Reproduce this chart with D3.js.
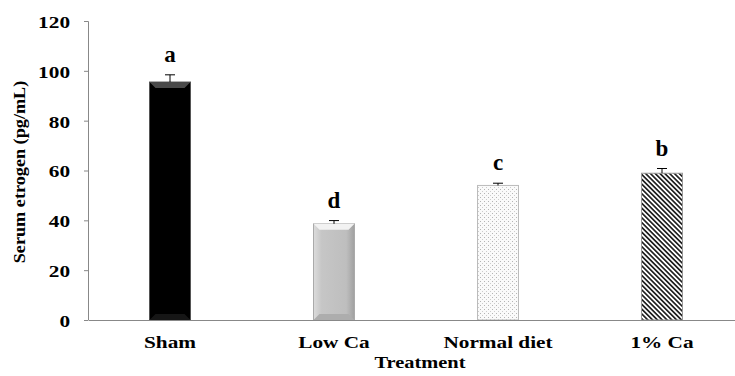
<!DOCTYPE html>
<html>
<head>
<meta charset="utf-8">
<script src="https://cdn.jsdelivr.net/npm/d3@7"></script>
<style>
  body { margin: 0; background: #fff; }
  text { font-family: "Liberation Serif", "Times New Roman", serif; font-weight: bold; fill: #000; }
</style>
</head>
<body>
<svg width="735" height="376"></svg>
<script>
// data
const treatments = ["Sham", "Low Ca", "Normal diet", "1% Ca"];
const means = [95.5, 38.6, 54.0, 58.9];
const errors = [2.9, 1.3, 0.9, 1.9];
const letters = ["a", "d", "c", "b"];
const yTicks = [0, 20, 40, 60, 80, 100, 120];

const svg = d3.select("svg");
const margin = {left: 88, right: -9, top: 21, bottom: 56};
const width = 735 - margin.left - margin.right,
      height = 376 - margin.top - margin.bottom;

const x = d3.scaleBand().domain(treatments).range([0, width]).paddingInner(0.75).paddingOuter(0.375);
const y = d3.scaleLinear().domain([0, 120]).range([height, 0]);

// the reference text is a little wider than the font, stretch it
function stretch(sel, k) {
  sel.each(function() {
    const w = this.getComputedTextLength();
    d3.select(this).attr("textLength", w * k).attr("lengthAdjust", "spacingAndGlyphs");
  });
}

const defs = svg.append("defs");

const gGray = defs.append("linearGradient").attr("id", "grayH").attr("x1", 0).attr("y1", 0).attr("x2", 1).attr("y2", 0);
gGray.append("stop").attr("offset", "0").attr("stop-color", "#dcdcdc");
gGray.append("stop").attr("offset", "0.2").attr("stop-color", "#c6c6c6");
gGray.append("stop").attr("offset", "0.8").attr("stop-color", "#bebebe");
gGray.append("stop").attr("offset", "1").attr("stop-color", "#a0a0a0");

const dots = defs.append("pattern").attr("id", "dots").attr("patternUnits", "userSpaceOnUse")
  .attr("width", 4).attr("height", 4);
dots.append("rect").attr("width", 4).attr("height", 4).attr("fill", "#fafafa");
dots.append("rect").attr("x", 0).attr("y", 0).attr("width", 1).attr("height", 1).attr("fill", "#b4b4b4");
dots.append("rect").attr("x", 2).attr("y", 2).attr("width", 1).attr("height", 1).attr("fill", "#cccccc");

const stripes = defs.append("pattern").attr("id", "stripes").attr("patternUnits", "userSpaceOnUse")
  .attr("width", 3.4).attr("height", 4).attr("patternTransform", "rotate(-45)");
stripes.append("rect").attr("width", 3.4).attr("height", 4).attr("fill", "#fff");
stripes.append("rect").attr("x", 0).attr("width", 1.7).attr("height", 4).attr("fill", "#222");

const fills = ["#000", "url(#grayH)", "url(#dots)", "url(#stripes)"];
const strokes = ["#555", "#aaa", "#bbb", "#999"];
const bevelTop = ["#4a4a4a", "#f2f2f2", null, null];
const bevelBottom = ["#161616", "#adadad", null, null];

const g = svg.append("g").attr("transform", `translate(${margin.left},${margin.top})`);

// y axis
const yAxis = g.append("g").call(d3.axisLeft(y).tickValues(yTicks).tickSize(4).tickPadding(14));
yAxis.select(".domain").attr("stroke", "#888").attr("d", `M-4,0.5H0.5V${height}`);
yAxis.selectAll(".tick line").attr("stroke", "#888");
yAxis.selectAll("text").style("font-size", "16px").style("font-family", "Liberation Serif")
  .style("font-weight", "bold").attr("dy", "0.4em").call(stretch, 1.33);

// bars
const bars = g.selectAll(".bar").data(treatments).enter().append("g");
bars.append("rect")
  .attr("x", d => x(d))
  .attr("y", (d, i) => y(means[i]))
  .attr("width", x.bandwidth())
  .attr("height", (d, i) => y(0) - y(means[i]))
  .attr("fill", (d, i) => fills[i])
  .attr("stroke", (d, i) => strokes[i])
  .attr("stroke-width", 1);

// bevel trims at top and bottom of the bars
const bv = 6;
bars.filter((d, i) => bevelTop[i]).append("path")
  .attr("d", (d, i) => {
    const x0 = x(d), x1 = x(d) + x.bandwidth(), t = y(means[i]);
    return `M${x0},${t}L${x1},${t}L${x1 - bv},${t + bv}L${x0 + bv},${t + bv}Z`;
  })
  .attr("fill", (d, i) => bevelTop[i]);
bars.filter((d, i) => bevelBottom[i]).append("path")
  .attr("d", d => {
    const x0 = x(d), x1 = x(d) + x.bandwidth(), b = y(0);
    return `M${x0},${b}L${x1},${b}L${x1 - bv},${b - bv}L${x0 + bv},${b - bv}Z`;
  })
  .attr("fill", (d, i) => bevelBottom[i]);

// error bars
const eb = g.selectAll(".err").data(treatments).enter().append("g");
eb.append("line")
  .attr("x1", d => x(d) + x.bandwidth() / 2).attr("x2", d => x(d) + x.bandwidth() / 2)
  .attr("y1", (d, i) => y(means[i])).attr("y2", (d, i) => y(means[i] + errors[i]))
  .attr("stroke", "#000").attr("stroke-width", 1);
eb.append("line")
  .attr("x1", d => x(d) + x.bandwidth() / 2 - 5).attr("x2", d => x(d) + x.bandwidth() / 2 + 5)
  .attr("y1", (d, i) => y(means[i] + errors[i])).attr("y2", (d, i) => y(means[i] + errors[i]))
  .attr("stroke", "#000").attr("stroke-width", 1);

// significance letters
g.selectAll(".letter").data(treatments).enter().append("text")
  .attr("x", d => x(d) + x.bandwidth() / 2)
  .attr("y", (d, i) => y(means[i] + errors[i]) - 13)
  .attr("text-anchor", "middle")
  .style("font-size", "23px")
  .text((d, i) => letters[i]);

// x axis
const xAxis = g.append("g").attr("transform", `translate(0,${height})`)
  .call(d3.axisBottom(x).tickSize(0).tickPadding(16));
xAxis.select(".domain").attr("stroke", "#888");
xAxis.selectAll("text").style("font-size", "17px").style("font-family", "Liberation Serif")
  .style("font-weight", "bold").call(stretch, 1.25);

// axis titles
svg.append("text")
  .attr("x", 420).attr("y", 368)
  .attr("text-anchor", "middle")
  .style("font-size", "17px")
  .text("Treatment")
  .call(stretch, 1.2);

svg.append("text")
  .attr("transform", "translate(25,172) rotate(-90)")
  .attr("text-anchor", "middle")
  .style("font-size", "17px")
  .text("Serum etrogen (pg/mL)")
  .call(stretch, 1.07);
</script>
</body>
</html>
